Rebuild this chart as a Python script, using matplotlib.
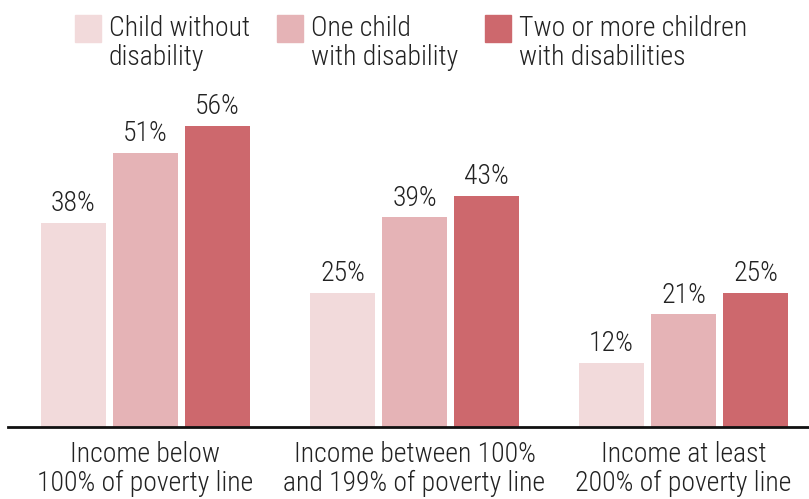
import matplotlib
matplotlib.use("Agg")
import matplotlib.pyplot as plt
from matplotlib.patches import Rectangle

FONT = ['Roboto Condensed', 'DejaVu Sans']
plt.rcParams['font.family'] = FONT
plt.rcParams['font.weight'] = 'light'

categories = ["Income below\n100% of poverty line",
              "Income between 100%\nand 199% of poverty line",
              "Income at least\n200% of poverty line"]
series_names = ["Child without\ndisability", "One child\nwith disability",
                "Two or more children\nwith disabilities"]
no_disability = [38, 25, 12]
one_child = [51, 39, 21]
two_or_more = [56, 43, 25]
series = [no_disability, one_child, two_or_more]
colors = ["#F2DADB", "#E5B3B6", "#CD686D"]

W, H = 809, 499
fig = plt.figure(figsize=(W / 100, H / 100), dpi=100)
ax = fig.add_axes([8 / W, 1 - 427 / H, 1 - 8 / W, (427 - 104.5) / H])

pitch = 72 / 269
width = 65 / 269
for i, (vals, c) in enumerate(zip(series, colors)):
    xs = [g + (i - 1) * pitch for g in range(len(categories))]
    ax.bar(xs, vals, width=width, color=c, edgecolor='none')
    for x, v in zip(xs, vals):
        ax.annotate(f"{v}%", (x, v), xytext=(0, 4), textcoords='offset points',
                    ha='center', va='bottom', fontsize=20, color='#222222')

ax.set_xlim((8 - 145.5) / 269, (809 - 145.5) / 269)
ax.set_ylim(0, 60)
ax.set_xticks(range(len(categories)))
ax.set_xticklabels(categories, fontsize=20, color='#222222', linespacing=1.1)
ax.tick_params(axis='x', length=0, pad=10)
ax.set_yticks([])
for s in ['top', 'right', 'left']:
    ax.spines[s].set_visible(False)
ax.spines['bottom'].set_linewidth(2)
ax.spines['bottom'].set_color('#111111')

# legend
patch_x = [75, 277, 485]
for px, name, c in zip(patch_x, series_names, colors):
    fig.patches.append(Rectangle((px / W, 1 - 42 / H), 26 / W, 27 / H,
                                 transform=fig.transFigure, color=c))
    fig.text((px + 34) / W, 1 - 43 / H, name, fontsize=20, color='#222222',
             ha='left', va='center', linespacing=1.05)

fig.savefig("out.png", dpi=100)
